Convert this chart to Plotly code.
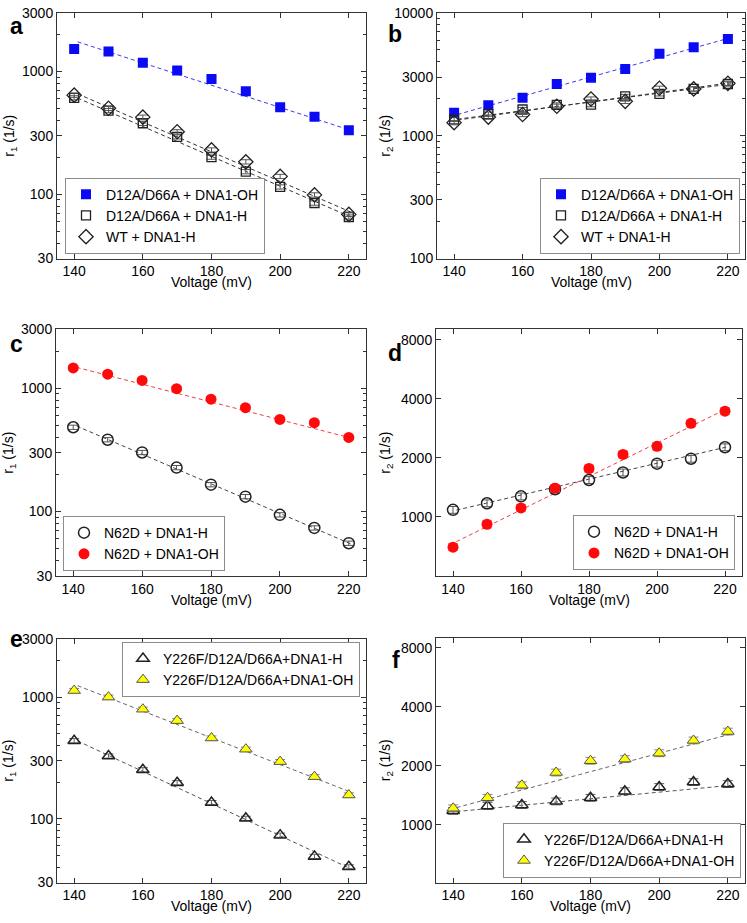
import math
import plotly.graph_objects as go

W, H = 747, 923

# ---------------- data ----------------
voltage = [140, 150, 160, 170, 180, 190, 200, 210, 220]
x_ticks = [140, 160, 180, 200, 220]

# panel a : r1
a_d12_oh = [1527, 1452, 1180, 1018, 868, 691, 512, 428, 333]
a_d12_h = [611, 481, 379, 294, 201, 153, 115, 85, 65.4]
a_wt_h = [642, 502, 425, 323, 230, 184, 140, 99, 68.7]
# panel b : r2
b_d12_oh = [1537, 1770, 2038, 2639, 2965, 3499, 4642, 5248, 6119]
b_d12_h = [1360, 1500, 1635, 1781, 1793, 2089, 2195, 2405, 2639]
b_wt_h = [1278, 1419, 1490, 1738, 1990, 1905, 2436, 2405, 2672]
# panel c : r1
c_n62d_h = [482, 382, 301, 227, 165, 132, 94, 73.6, 55.3]
c_n62d_oh = [1458, 1298, 1156, 991, 815, 695, 558, 525, 399]
# panel d : r2
d_n62d_h = [1084, 1171, 1270, 1381, 1539, 1682, 1866, 1977, 2263]
d_n62d_oh = [699, 915, 1109, 1398, 1762, 2080, 2288, 2997, 3455]
# panel e : r1
e_y226f_h = [438, 328, 253, 198, 136, 101, 73.5, 49.2, 40.4]
e_y226f_oh = [1130, 998, 794, 640, 461, 373, 295, 222, 157]
# panel f : r2
f_y226f_h = [1176, 1245, 1260, 1314, 1371, 1481, 1557, 1650, 1612]
f_y226f_oh = [1212, 1371, 1588, 1845, 2119, 2160, 2315, 2690, 2985]

# fitted (dashed) lines: end points
fit_v = [141, 221]
fit_a_oh = [1745, 329]
fit_a_d12_h = [608, 64.6]
fit_a_wt_h = [658, 70.9]
fit_b_oh = [1490, 6310]
fit_b_d12_h = [1365, 2640]
fit_b_wt_h = [1343, 2704]
fit_c_h = [493, 54]
fit_c_oh = [1475, 392]
fit_d_h = [1080, 2280]
fit_d_oh = [746, 3590]
fit_e_h = [436, 38.4]
fit_e_oh = [1239, 164]
fit_f_h = [1166, 1588]
fit_f_oh = [1222, 2904]

# tick labels
r1_ticks = [30, 100, 300, 1000, 3000]
r2b_ticks = [100, 300, 1000, 3000, 10000]
r2_ticks = [1000, 2000, 4000, 8000]
r1_minor = [40, 50, 60, 70, 80, 90, 200, 400, 500, 600, 700, 800, 900, 2000]
r2b_minor = [200, 400, 500, 600, 700, 800, 900, 2000, 4000, 5000, 6000, 7000, 8000, 9000]

FONT = "Liberation Sans, Arial, Helvetica, sans-serif"

# ---------------- layout geometry (pixels) ----------------
panels = {
    # name: (left, right, top, bottom)
    1: (57, 366, 5, 255),
    2: (437, 745, 5, 255),
    3: (56, 366, 327, 578),
    4: (436, 742, 327, 578),
    5: (57, 366, 642, 890),
    6: (436, 745, 641, 890),
}
yranges = {
    1: [math.log10(30), math.log10(3000)],
    2: [2, 4],
    3: [math.log10(30), math.log10(3000)],
    4: [math.log10(498), math.log10(9050)],
    5: [math.log10(30), math.log10(3000)],
    6: [math.log10(506), math.log10(8975)],
}

fig = go.Figure()


def ax(i):
    return ("x" if i == 1 else f"x{i}"), ("y" if i == 1 else f"y{i}")


def add_series(i, y, name, legend, symbol, size, color, lcolor, lwidth, ecolor):
    xa, ya = ax(i)
    fig.add_trace(go.Scatter(
        x=voltage, y=y, name=name, mode="markers", xaxis=xa, yaxis=ya,
        legend=legend,
        marker=dict(symbol=symbol, size=size, color=color,
                    line=dict(color=lcolor, width=lwidth)),
        error_y=dict(type="percent", value=4, width=5, thickness=1, color=ecolor),
    ))


def add_fit(i, y, color):
    xa, ya = ax(i)
    fig.add_trace(go.Scatter(
        x=fit_v, y=y, mode="lines", xaxis=xa, yaxis=ya, showlegend=False,
        hoverinfo="skip",
        line=dict(color=color, width=1, dash="4px,3px"),
    ))


BLUE = "#0a0af5"
RED = "#ff0a0a"
YEL = "#ffff00"
BLK = "#222222"

# panel a
add_fit(1, fit_a_oh, "#3a3ae8")
add_fit(1, fit_a_d12_h, "#333333")
add_fit(1, fit_a_wt_h, "#333333")
add_series(1, a_d12_oh, "D12A/D66A + DNA1-OH", "legend", "square", 10, BLUE, BLUE, 0, "#8a8ae8")
add_series(1, a_d12_h, "D12A/D66A + DNA1-H", "legend", "square-open", 9, BLK, BLK, 1.3, "#555555")
add_series(1, a_wt_h, "WT + DNA1-H", "legend", "diamond-open", 11, BLK, BLK, 1.3, "#555555")
# panel b
add_fit(2, fit_b_oh, "#3a3ae8")
add_fit(2, fit_b_d12_h, "#333333")
add_fit(2, fit_b_wt_h, "#333333")
add_series(2, b_d12_oh, "D12A/D66A + DNA1-OH", "legend2", "square", 10, BLUE, BLUE, 0, "#8a8ae8")
add_series(2, b_d12_h, "D12A/D66A + DNA1-H", "legend2", "square-open", 9, BLK, BLK, 1.3, "#555555")
add_series(2, b_wt_h, "WT + DNA1-H", "legend2", "diamond-open", 11, BLK, BLK, 1.3, "#555555")
# panel c
add_fit(3, fit_c_h, "#444444")
add_fit(3, fit_c_oh, "#f04040")
add_series(3, c_n62d_h, "N62D + DNA1-H", "legend3", "circle-open", 11, BLK, BLK, 1.5, "#555555")
add_series(3, c_n62d_oh, "N62D + DNA1-OH", "legend3", "circle", 11, RED, RED, 0, "#ff7070")
# panel d
add_fit(4, fit_d_h, "#444444")
add_fit(4, fit_d_oh, "#f04040")
add_series(4, d_n62d_h, "N62D + DNA1-H", "legend4", "circle-open", 11, BLK, BLK, 1.5, "#555555")
add_series(4, d_n62d_oh, "N62D + DNA1-OH", "legend4", "circle", 11, RED, RED, 0, "#ff7070")
# panel e
add_fit(5, fit_e_h, "#555555")
add_fit(5, fit_e_oh, "#666666")
add_series(5, e_y226f_h, "Y226F/D12A/D66A+DNA1-H", "legend5", "triangle-up-open", 11, BLK, BLK, 1.5, "#666666")
add_series(5, e_y226f_oh, "Y226F/D12A/D66A+DNA1-OH", "legend5", "triangle-up", 11, YEL, "#555555", 1, "#888888")
# panel f
add_fit(6, fit_f_h, "#555555")
add_fit(6, fit_f_oh, "#666666")
add_series(6, f_y226f_h, "Y226F/D12A/D66A+DNA1-H", "legend6", "triangle-up-open", 11, BLK, BLK, 1.5, "#666666")
add_series(6, f_y226f_oh, "Y226F/D12A/D66A+DNA1-OH", "legend6", "triangle-up", 11, YEL, "#555555", 1, "#888888")

layout = dict(
    width=W, height=H, margin=dict(l=0, r=0, t=0, b=0),
    paper_bgcolor="white", plot_bgcolor="white",
    font=dict(family=FONT, size=14, color="black"),
    showlegend=True,
)

ytick_sets = {
    1: (r1_ticks, r1_minor), 2: (r2b_ticks, r2b_minor), 3: (r1_ticks, r1_minor),
    4: (r2_ticks, None), 5: (r1_ticks, r1_minor), 6: (r2_ticks, None),
}

for i, (l, r, t, b) in panels.items():
    xk = "xaxis" if i == 1 else f"xaxis{i}"
    yk = "yaxis" if i == 1 else f"yaxis{i}"
    xa, ya = ax(i)
    layout[xk] = dict(
        domain=[l / W, r / W], anchor=ya, range=[135, 225],
        tickmode="array", tickvals=x_ticks, ticktext=[str(v) for v in x_ticks],
        ticks="inside", ticklen=5, tickcolor="#333", mirror="allticks",
        showline=True, linecolor="#333", linewidth=1, showgrid=False, zeroline=False,
        tickfont=dict(size=14, color="black"),
    )
    tv, mv = ytick_sets[i]
    yd = dict(
        domain=[1 - b / H, 1 - t / H], anchor=xa, type="log", range=yranges[i],
        tickmode="array", tickvals=tv, ticktext=[str(v) for v in tv],
        ticks="inside", ticklen=5, tickcolor="#333", mirror="allticks",
        showline=True, linecolor="#333", linewidth=1, showgrid=False, zeroline=False,
        tickfont=dict(size=14, color="black"),
    )
    if mv:
        yd["minor"] = dict(tickmode="array", tickvals=mv, ticks="inside", ticklen=3,
                           tickcolor="#333", showgrid=False)
    layout[yk] = yd

leg_common = dict(font=dict(size=14, color="black"), bgcolor="white",
                  bordercolor="#8c8c8c", borderwidth=1, itemwidth=30,
                  tracegroupgap=0)
legend_pos = {
    "legend": (65, 250, "left", "bottom"),
    "legend2": (740, 250, "right", "bottom"),
    "legend3": (63, 573, "left", "bottom"),
    "legend4": (735, 572, "right", "bottom"),
    "legend5": (360, 645, "right", "top"),
    "legend6": (741, 885, "right", "bottom"),
}
for k, (px, py, xa_, ya_) in legend_pos.items():
    layout[k] = dict(leg_common, x=px / W, y=1 - py / H, xanchor=xa_, yanchor=ya_,
                     xref="paper", yref="paper")

fig.update_layout(**layout)

annotations = []
# panel letters
letters = [("a", 16, 18), ("b", 395, 26), ("c", 16, 342), ("d", 395, 351),
           ("e", 16, 642), ("f", 396, 664)]
for txt, px, py in letters:
    annotations.append(dict(text=f"<b>{txt}</b>", x=px / W, y=1 - py / H,
                            xref="paper", yref="paper", showarrow=False,
                            xanchor="center", yanchor="middle",
                            font=dict(size=23, color="black", family=FONT)))
# y titles
ytitles = [(1, "r<sub>1</sub> (1/s)", 10), (2, "r<sub>2</sub> (1/s)", 386),
           (3, "r<sub>1</sub> (1/s)", 9), (4, "r<sub>2</sub> (1/s)", 386),
           (5, "r<sub>1</sub> (1/s)", 9), (6, "r<sub>2</sub> (1/s)", 386)]
for i, txt, px in ytitles:
    l, r, t, b = panels[i]
    annotations.append(dict(text=txt, x=px / W, y=1 - (t + b) / 2 / H,
                            xref="paper", yref="paper", showarrow=False,
                            textangle=-90, xanchor="center", yanchor="middle",
                            font=dict(size=14, color="black", family=FONT)))
# x titles
for i, (l, r, t, b) in panels.items():
    annotations.append(dict(text="Voltage (mV)", x=(l + r) / 2 / W, y=1 - (b + 24) / H,
                            xref="paper", yref="paper", showarrow=False,
                            xanchor="center", yanchor="middle",
                            font=dict(size=14, color="black", family=FONT)))
fig.update_layout(annotations=annotations)

fig.write_html("out.html",
               config={"displayModeBar": False},
               post_script="document.body.style.margin='0';document.body.style.overflow='hidden';")
